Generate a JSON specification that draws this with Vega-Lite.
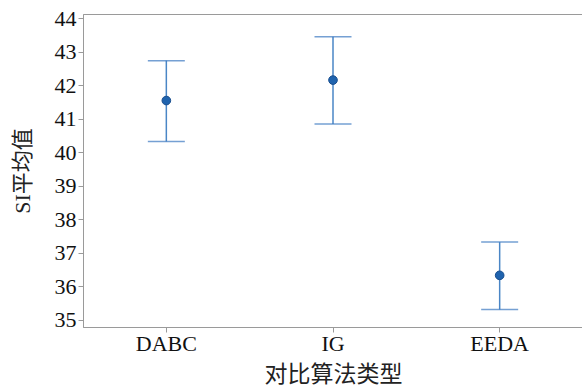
{
  "$schema": "https://vega.github.io/schema/vega-lite/v6.json",
  "width": 500,
  "height": 313,
  "autosize": {"type": "none"},
  "padding": {"left": 83, "top": 14, "right": 0, "bottom": 59},
  "background": "white",
  "config": {
    "view": {"stroke": "#9a9a9a", "strokeWidth": 1},
    "font": "Liberation Serif",
    "axis": {
      "labelFont": "Liberation Serif",
      "titleFont": "Liberation Serif, Noto Sans CJK SC",
      "labelColor": "#111",
      "titleColor": "#222",
      "labelFontSize": 22,
      "titleFontSize": 22,
      "titleFontWeight": "normal",
      "domainColor": "#9a9a9a",
      "tickColor": "#9a9a9a",
      "tickSize": 5,
      "labelOverlap": false,
      "labelFlush": false,
      "grid": false
    }
  },
  "data": {
    "values": [
      {"algo": "DABC", "mean": 41.54, "lo": 40.32, "hi": 42.73},
      {"algo": "IG", "mean": 42.15, "lo": 40.84, "hi": 43.44},
      {"algo": "EEDA", "mean": 36.33, "lo": 35.31, "hi": 37.32}
    ]
  },
  "encoding": {
    "x": {
      "field": "algo",
      "type": "nominal",
      "sort": ["DABC", "IG", "EEDA"],
      "scale": {"paddingInner": 0, "paddingOuter": 0},
      "axis": {"title": "对比算法类型", "titleFontSize": 23, "labelAngle": 0, "labelPadding": 1, "titlePadding": 9}
    }
  },
  "layer": [
    {
      "mark": {"type": "rule", "color": "#4a86c6", "strokeWidth": 1.5},
      "encoding": {
        "y": {
          "field": "lo",
          "type": "quantitative",
          "scale": {"domain": [34.79, 44.12], "nice": false, "zero": false},
          "axis": {"title": "SI平均值", "values": [35, 36, 37, 38, 39, 40, 41, 42, 43, 44], "labelOverlap": false, "labelPadding": 2, "titlePadding": 20}
        },
        "y2": {"field": "hi"}
      }
    },
    {
      "mark": {"type": "tick", "orient": "horizontal", "color": "#3a78c0", "size": 37, "thickness": 1.5},
      "encoding": {"y": {"field": "lo", "type": "quantitative", "scale": {"domain": [34.79, 44.12], "nice": false, "zero": false}, "axis": {"title": "SI平均值", "values": [35, 36, 37, 38, 39, 40, 41, 42, 43, 44], "labelOverlap": false, "labelPadding": 2, "titlePadding": 20}}}
    },
    {
      "mark": {"type": "tick", "orient": "horizontal", "color": "#3a78c0", "size": 37, "thickness": 1.5},
      "encoding": {"y": {"field": "hi", "type": "quantitative", "scale": {"domain": [34.79, 44.12], "nice": false, "zero": false}, "axis": {"title": "SI平均值", "values": [35, 36, 37, 38, 39, 40, 41, 42, 43, 44], "labelOverlap": false, "labelPadding": 2, "titlePadding": 20}}}
    },
    {
      "mark": {"type": "point", "shape": "circle", "filled": true, "fill": "#1f63ae", "stroke": "#1a4f8f", "strokeWidth": 1, "opacity": 1, "size": 75},
      "encoding": {"y": {"field": "mean", "type": "quantitative", "scale": {"domain": [34.79, 44.12], "nice": false, "zero": false}, "axis": {"title": "SI平均值", "values": [35, 36, 37, 38, 39, 40, 41, 42, 43, 44], "labelOverlap": false, "labelPadding": 2, "titlePadding": 20}}}
    }
  ]
}
